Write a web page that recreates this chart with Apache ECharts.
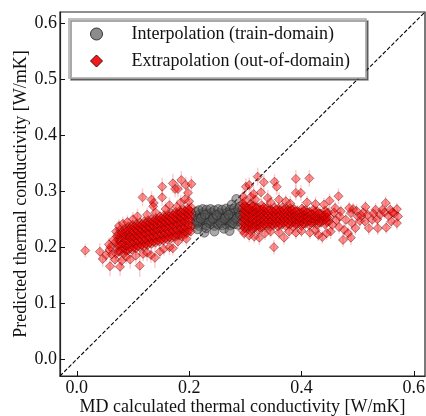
<!DOCTYPE html>
<html><head><meta charset="utf-8">
<script src="https://cdn.jsdelivr.net/npm/echarts@6/dist/echarts.min.js"></script>
<style>html,body{margin:0;padding:0;background:#fff}#c{width:426px;height:416px}</style>
</head><body><div id="c"></div>
<script>
const xTicks = [0, 0.2, 0.4, 0.6];
const yTicks = [0, 0.1, 0.2, 0.3, 0.4, 0.5, 0.6];
const axisMin = -0.03, axisMax = 0.62;
const diagLine = [[-0.03, -0.03], [0.62, 0.62]];
const legendNames = ['Interpolation (train-domain)', 'Extrapolation (out-of-domain)'];

// grey circles [x, y]
const interpPoints = [
[0.211,0.241],[0.212,0.249],[0.210,0.256],[0.212,0.263],
[0.217,0.238],[0.218,0.245],[0.216,0.252],[0.219,0.259],[0.217,0.266],
[0.224,0.240],[0.225,0.248],[0.223,0.255],[0.226,0.262],[0.224,0.268],
[0.231,0.239],[0.232,0.246],[0.230,0.253],[0.233,0.260],[0.231,0.267],
[0.238,0.241],[0.239,0.248],[0.237,0.255],[0.240,0.262],[0.238,0.268],
[0.245,0.238],[0.246,0.245],[0.244,0.252],[0.247,0.259],[0.245,0.266],
[0.252,0.240],[0.253,0.247],[0.251,0.254],[0.254,0.261],[0.252,0.268],
[0.259,0.239],[0.260,0.246],[0.258,0.253],[0.261,0.260],[0.259,0.267],
[0.266,0.241],[0.267,0.248],[0.265,0.255],[0.268,0.262],[0.266,0.269],
[0.273,0.239],[0.274,0.246],[0.272,0.253],[0.275,0.260],[0.273,0.267],
[0.280,0.241],[0.281,0.248],[0.279,0.255],[0.282,0.262],[0.280,0.269],
[0.287,0.240],[0.288,0.247],[0.286,0.254],[0.289,0.261],[0.287,0.268],
[0.214,0.244],[0.221,0.251],[0.228,0.258],[0.235,0.244],[0.242,0.251],[0.249,0.257],
[0.256,0.243],[0.263,0.251],[0.270,0.258],[0.277,0.243],[0.284,0.251],[0.291,0.257],
[0.227,0.226],[0.230,0.234],[0.245,0.228],[0.262,0.233],[0.272,0.229],
[0.284,0.286],[0.276,0.276],[0.215,0.232],[0.290,0.272]
];

// red diamonds [x, y, error]
const extrapPoints = [
// left band
[0.070,0.188,.012],[0.071,0.199,.010],[0.069,0.209,.011],[0.072,0.219,.009],[0.070,0.228,.012],
[0.077,0.192,.015],[0.078,0.203,.010],[0.076,0.212,.012],[0.079,0.222,.010],[0.077,0.231,.011],
[0.084,0.189,.014],[0.085,0.198,.011],[0.083,0.207,.010],[0.086,0.216,.012],[0.084,0.225,.009],[0.085,0.233,.013],
[0.091,0.194,.012],[0.092,0.203,.010],[0.090,0.212,.011],[0.093,0.221,.010],[0.091,0.230,.012],[0.092,0.237,.010],
[0.098,0.196,.013],[0.099,0.205,.011],[0.097,0.214,.010],[0.100,0.223,.012],[0.098,0.232,.010],[0.099,0.240,.011],
[0.105,0.198,.012],[0.106,0.207,.010],[0.104,0.216,.011],[0.107,0.225,.010],[0.105,0.234,.012],[0.106,0.242,.010],
[0.112,0.200,.011],[0.113,0.209,.010],[0.111,0.218,.012],[0.114,0.227,.010],[0.112,0.236,.011],[0.113,0.244,.010],
[0.119,0.201,.012],[0.120,0.211,.010],[0.118,0.220,.011],[0.121,0.229,.010],[0.119,0.238,.012],[0.120,0.246,.010],
[0.126,0.204,.011],[0.127,0.213,.010],[0.125,0.222,.012],[0.128,0.231,.010],[0.126,0.240,.011],[0.127,0.248,.010],
[0.133,0.206,.012],[0.134,0.215,.010],[0.132,0.224,.011],[0.135,0.233,.010],[0.133,0.242,.012],[0.134,0.250,.010],
[0.140,0.208,.011],[0.141,0.217,.010],[0.139,0.227,.012],[0.142,0.236,.010],[0.140,0.245,.011],[0.141,0.252,.010],
[0.147,0.210,.012],[0.148,0.219,.010],[0.146,0.229,.011],[0.149,0.238,.010],[0.147,0.247,.012],[0.148,0.255,.010],
[0.154,0.212,.011],[0.155,0.221,.010],[0.153,0.231,.012],[0.156,0.240,.010],[0.154,0.249,.011],[0.155,0.257,.010],
[0.161,0.214,.012],[0.162,0.223,.010],[0.160,0.233,.011],[0.163,0.242,.010],[0.161,0.251,.012],[0.162,0.259,.010],
[0.168,0.216,.011],[0.169,0.225,.010],[0.167,0.235,.012],[0.170,0.244,.010],[0.168,0.253,.011],[0.169,0.261,.010],
[0.175,0.218,.012],[0.176,0.227,.010],[0.174,0.237,.011],[0.177,0.246,.010],[0.175,0.255,.012],[0.176,0.263,.010],
[0.182,0.221,.011],[0.183,0.230,.010],[0.181,0.240,.012],[0.184,0.249,.010],[0.182,0.258,.011],[0.183,0.265,.010],
[0.189,0.223,.012],[0.190,0.232,.010],[0.188,0.242,.011],[0.191,0.251,.010],[0.189,0.260,.012],[0.190,0.267,.010],
[0.196,0.225,.011],[0.197,0.234,.010],[0.195,0.244,.012],[0.198,0.253,.010],[0.196,0.262,.011],[0.197,0.269,.010],
[0.203,0.228,.012],[0.204,0.237,.010],[0.202,0.247,.011],[0.204,0.256,.010],[0.203,0.264,.012],[0.204,0.271,.010],
// left band, second layer
[0.0735,0.193,.010],[0.0735,0.204,.011],[0.0735,0.214,.010],[0.0735,0.223,.012],
[0.0805,0.197,.011],[0.0805,0.207,.010],[0.0805,0.217,.012],[0.0805,0.226,.010],
[0.0875,0.194,.010],[0.0875,0.203,.011],[0.0875,0.212,.010],[0.0875,0.221,.012],[0.0875,0.229,.010],
[0.0945,0.198,.011],[0.0945,0.208,.010],[0.0945,0.217,.012],[0.0945,0.226,.010],[0.0945,0.233,.011],
[0.1015,0.200,.010],[0.1015,0.210,.011],[0.1015,0.219,.010],[0.1015,0.228,.012],[0.1015,0.236,.010],
[0.1085,0.202,.011],[0.1085,0.212,.010],[0.1085,0.221,.012],[0.1085,0.230,.010],[0.1085,0.238,.011],
[0.1155,0.204,.010],[0.1155,0.214,.011],[0.1155,0.223,.010],[0.1155,0.232,.012],[0.1155,0.240,.010],
[0.1225,0.206,.011],[0.1225,0.215,.010],[0.1225,0.225,.012],[0.1225,0.234,.010],[0.1225,0.242,.011],
[0.1295,0.208,.010],[0.1295,0.218,.011],[0.1295,0.227,.010],[0.1295,0.236,.012],[0.1295,0.244,.010],
[0.1365,0.210,.011],[0.1365,0.220,.010],[0.1365,0.229,.012],[0.1365,0.238,.010],[0.1365,0.246,.011],
[0.1435,0.212,.010],[0.1435,0.222,.011],[0.1435,0.232,.010],[0.1435,0.241,.012],[0.1435,0.248,.010],
[0.1505,0.214,.011],[0.1505,0.224,.010],[0.1505,0.234,.012],[0.1505,0.243,.010],[0.1505,0.251,.011],
[0.1575,0.216,.010],[0.1575,0.226,.011],[0.1575,0.236,.010],[0.1575,0.245,.012],[0.1575,0.253,.010],
[0.1645,0.218,.011],[0.1645,0.228,.010],[0.1645,0.238,.012],[0.1645,0.247,.010],[0.1645,0.255,.011],
[0.1715,0.220,.010],[0.1715,0.230,.011],[0.1715,0.240,.010],[0.1715,0.249,.012],[0.1715,0.257,.010],
[0.1785,0.222,.011],[0.1785,0.232,.010],[0.1785,0.242,.012],[0.1785,0.251,.010],[0.1785,0.259,.011],
[0.1855,0.225,.010],[0.1855,0.235,.011],[0.1855,0.245,.010],[0.1855,0.254,.012],[0.1855,0.262,.010],
[0.1925,0.227,.011],[0.1925,0.237,.010],[0.1925,0.247,.012],[0.1925,0.256,.010],[0.1925,0.264,.011],
[0.1995,0.230,.010],[0.1995,0.240,.011],[0.1995,0.250,.010],[0.1995,0.259,.012],[0.1995,0.267,.010],
// left sparse below
[0.015,0.194,.012],[0.041,0.192,.015],[0.046,0.179,.014],[0.052,0.186,.012],[0.058,0.195,.013],[0.062,0.187,.016],
[0.059,0.166,.018],[0.068,0.178,.015],[0.077,0.165,.016],[0.080,0.176,.014],[0.088,0.183,.013],[0.095,0.178,.016],
[0.112,0.167,.020],[0.105,0.185,.014],[0.118,0.188,.013],[0.125,0.190,.015],[0.132,0.186,.014],[0.139,0.181,.018],
[0.148,0.192,.013],[0.155,0.197,.012],[0.165,0.200,.014],[0.171,0.198,.013],[0.180,0.210,.012],[0.188,0.219,.012],
[0.195,0.215,.013],[0.057,0.205,.012],[0.065,0.213,.013],[0.060,0.200,.012],
// left sparse above
[0.075,0.238,.012],[0.082,0.242,.013],[0.090,0.245,.012],[0.100,0.250,.013],[0.108,0.255,.014],[0.117,0.289,.016],
[0.133,0.285,.015],[0.137,0.279,.014],[0.136,0.273,.013],[0.152,0.308,.016],[0.152,0.289,.015],[0.171,0.314,.017],
[0.175,0.304,.015],[0.180,0.304,.014],[0.186,0.320,.016],[0.194,0.311,.015],[0.204,0.313,.014],[0.198,0.297,.013],
[0.125,0.258,.013],[0.140,0.262,.014],[0.158,0.268,.013],[0.165,0.275,.014],[0.185,0.280,.013],[0.192,0.285,.014],
[0.178,0.272,.012],[0.200,0.282,.013],
// right dense
[0.295,0.230,.011],[0.296,0.238,.010],[0.294,0.246,.012],[0.295,0.254,.010],[0.296,0.262,.011],[0.294,0.270,.012],[0.295,0.278,.013],
[0.302,0.233,.012],[0.303,0.241,.010],[0.301,0.249,.011],[0.302,0.257,.010],[0.303,0.265,.012],[0.301,0.273,.011],
[0.309,0.229,.011],[0.310,0.237,.010],[0.308,0.245,.012],[0.309,0.253,.010],[0.310,0.261,.011],[0.308,0.269,.012],[0.309,0.277,.013],
[0.316,0.234,.012],[0.317,0.242,.010],[0.315,0.250,.011],[0.316,0.258,.010],[0.317,0.266,.012],[0.315,0.274,.011],
[0.323,0.231,.011],[0.324,0.239,.010],[0.322,0.247,.012],[0.323,0.255,.010],[0.324,0.263,.011],[0.322,0.271,.012],
[0.330,0.236,.012],[0.331,0.244,.010],[0.329,0.252,.011],[0.330,0.260,.010],[0.331,0.268,.012],[0.329,0.275,.011],
[0.337,0.238,.011],[0.338,0.246,.010],[0.336,0.254,.012],[0.337,0.262,.010],[0.338,0.270,.011],
[0.344,0.236,.012],[0.345,0.244,.010],[0.343,0.252,.011],[0.344,0.260,.010],[0.345,0.268,.012],
[0.351,0.239,.011],[0.352,0.247,.010],[0.350,0.255,.012],[0.351,0.263,.010],[0.352,0.271,.011],
[0.358,0.237,.012],[0.359,0.245,.010],[0.357,0.253,.011],[0.358,0.261,.010],[0.359,0.269,.012],
[0.365,0.240,.011],[0.366,0.248,.010],[0.364,0.256,.012],[0.365,0.264,.010],[0.366,0.271,.011],
[0.372,0.238,.012],[0.373,0.246,.010],[0.371,0.254,.011],[0.372,0.262,.010],[0.373,0.269,.012],
[0.379,0.240,.011],[0.380,0.248,.010],[0.378,0.256,.012],[0.379,0.264,.010],[0.380,0.270,.011],
[0.386,0.237,.012],[0.387,0.245,.010],[0.385,0.253,.011],[0.386,0.261,.010],[0.387,0.268,.012],
[0.393,0.241,.011],[0.394,0.249,.010],[0.392,0.257,.012],[0.393,0.265,.010],
[0.400,0.238,.012],[0.401,0.246,.010],[0.399,0.254,.011],[0.400,0.262,.010],[0.401,0.269,.012],
[0.407,0.242,.011],[0.408,0.250,.010],[0.406,0.258,.012],[0.407,0.266,.010],
[0.414,0.239,.012],[0.415,0.247,.010],[0.413,0.255,.011],[0.414,0.263,.010],
[0.421,0.243,.011],[0.422,0.251,.010],[0.420,0.259,.012],[0.421,0.267,.010],
[0.428,0.240,.012],[0.429,0.248,.010],[0.427,0.256,.011],[0.428,0.264,.010],
[0.435,0.244,.011],[0.436,0.252,.010],[0.434,0.260,.012],
[0.442,0.241,.012],[0.443,0.249,.010],[0.441,0.257,.011],[0.442,0.265,.010],
[0.449,0.246,.011],[0.450,0.254,.010],[0.448,0.262,.012],
// right dense, second layer
[0.2985,0.234,.010],[0.2985,0.242,.011],[0.2985,0.250,.010],[0.2985,0.258,.012],[0.2985,0.266,.010],[0.2985,0.274,.011],
[0.3055,0.237,.011],[0.3055,0.245,.010],[0.3055,0.253,.012],[0.3055,0.261,.010],[0.3055,0.269,.011],
[0.3125,0.233,.010],[0.3125,0.241,.011],[0.3125,0.249,.010],[0.3125,0.257,.012],[0.3125,0.265,.010],[0.3125,0.273,.011],
[0.3195,0.238,.011],[0.3195,0.246,.010],[0.3195,0.254,.012],[0.3195,0.262,.010],[0.3195,0.270,.011],
[0.3265,0.235,.010],[0.3265,0.243,.011],[0.3265,0.251,.010],[0.3265,0.259,.012],[0.3265,0.267,.010],
[0.3335,0.240,.011],[0.3335,0.248,.010],[0.3335,0.256,.012],[0.3335,0.264,.010],[0.3335,0.271,.011],
[0.3405,0.242,.010],[0.3405,0.250,.011],[0.3405,0.258,.010],[0.3405,0.266,.012],
[0.3475,0.240,.011],[0.3475,0.248,.010],[0.3475,0.256,.012],[0.3475,0.264,.010],
[0.3545,0.243,.010],[0.3545,0.251,.011],[0.3545,0.259,.010],[0.3545,0.267,.012],
[0.3615,0.241,.011],[0.3615,0.249,.010],[0.3615,0.257,.012],[0.3615,0.265,.010],
[0.3685,0.244,.010],[0.3685,0.252,.011],[0.3685,0.260,.010],[0.3685,0.267,.012],
[0.3755,0.242,.011],[0.3755,0.250,.010],[0.3755,0.258,.012],[0.3755,0.265,.010],
[0.3825,0.244,.010],[0.3825,0.252,.011],[0.3825,0.260,.010],[0.3825,0.267,.012],
[0.3895,0.241,.011],[0.3895,0.249,.010],[0.3895,0.257,.012],[0.3895,0.264,.010],
[0.3965,0.245,.010],[0.3965,0.253,.011],[0.3965,0.261,.010],
[0.4035,0.242,.011],[0.4035,0.250,.010],[0.4035,0.258,.012],[0.4035,0.265,.010],
[0.4105,0.246,.010],[0.4105,0.254,.011],[0.4105,0.262,.010],
[0.4175,0.243,.011],[0.4175,0.251,.010],[0.4175,0.259,.012],
[0.4245,0.247,.010],[0.4245,0.255,.011],[0.4245,0.263,.010],
[0.4315,0.244,.011],[0.4315,0.252,.010],[0.4315,0.260,.012],
[0.4385,0.248,.010],[0.4385,0.256,.011],
[0.4455,0.245,.011],[0.4455,0.253,.010],[0.4455,0.261,.012],
// right sparse far
[0.458,0.262,.011],[0.462,0.248,.012],[0.466,0.291,.014],[0.470,0.264,.011],[0.474,0.213,.013],[0.476,0.231,.012],
[0.479,0.249,.011],[0.483,0.225,.012],[0.488,0.261,.011],[0.488,0.217,.013],[0.490,0.243,.012],[0.492,0.268,.011],
[0.496,0.234,.012],[0.500,0.255,.011],[0.504,0.247,.012],[0.507,0.256,.011],[0.513,0.246,.012],[0.514,0.272,.011],
[0.520,0.234,.012],[0.526,0.249,.011],[0.532,0.267,.012],[0.535,0.250,.011],[0.536,0.234,.012],[0.544,0.267,.011],
[0.550,0.279,.012],[0.551,0.235,.011],[0.558,0.267,.012],[0.560,0.246,.011],[0.565,0.260,.012],[0.570,0.268,.011],
[0.570,0.243,.012],[0.572,0.255,.011],[0.455,0.240,.012],[0.460,0.270,.011],[0.468,0.255,.012],[0.485,0.270,.011],
[0.498,0.265,.012],[0.510,0.262,.011],[0.518,0.258,.012],[0.528,0.260,.011],[0.540,0.258,.012],[0.548,0.262,.011],
[0.555,0.256,.012],[0.562,0.262,.011],[0.467,0.236,.012],[0.452,0.228,.013],
// right sparse above
[0.301,0.308,.015],[0.307,0.311,.014],[0.322,0.326,.016],[0.333,0.316,.015],[0.352,0.317,.014],[0.356,0.308,.015],
[0.390,0.322,.016],[0.414,0.323,.015],[0.328,0.298,.014],[0.390,0.297,.013],[0.399,0.297,.014],[0.296,0.290,.013],
[0.310,0.290,.014],[0.318,0.285,.013],[0.340,0.288,.014],[0.345,0.280,.012],[0.360,0.285,.013],[0.372,0.282,.012],
[0.380,0.278,.013],[0.410,0.280,.012],[0.425,0.277,.013],[0.440,0.276,.012],[0.450,0.283,.013],[0.300,0.282,.012],
[0.315,0.295,.013],
// right sparse below
[0.351,0.200,.013],[0.369,0.217,.012],[0.437,0.218,.012],[0.325,0.217,.013],[0.316,0.219,.012],[0.307,0.221,.012],
[0.298,0.225,.011],[0.335,0.225,.012],[0.345,0.228,.011],[0.360,0.226,.012],[0.378,0.228,.011],[0.390,0.226,.012],
[0.400,0.229,.011],[0.415,0.226,.012],[0.425,0.230,.011],[0.445,0.225,.012],[0.430,0.222,.011]
];

const FONT = "'Liberation Serif', 'Times New Roman', serif";
const chart = echarts.init(document.getElementById('c'), null, {renderer: 'canvas'});
chart.setOption({
  animation: false,
  backgroundColor: '#fff',
  grid: {left: 60, right: 1, top: 12, bottom: 40, show: true, borderColor: '#222', borderWidth: 1.2,
    backgroundColor: 'transparent', containLabel: false, outerBoundsMode: 'none'},
  legend: {
    orient: 'vertical', left: 69, top: 19,
    padding: [6, 16, 8, 21],
    itemWidth: 12, itemHeight: 12, itemGap: 9,
    backgroundColor: '#fff', borderColor: '#aaa', borderWidth: 1.5,
    shadowColor: 'rgba(0,0,0,0.45)', shadowOffsetX: 2, shadowOffsetY: 2, shadowBlur: 0,
    textStyle: {fontFamily: FONT, fontSize: 18, color: '#111', lineHeight: 18, padding: [0, 0, 0, 24]},
    data: [
      {name: legendNames[0], icon: 'circle', itemStyle: {color: '#8c8c8c', borderColor: '#333', borderWidth: 1, opacity: 1}},
      {name: legendNames[1], icon: 'diamond', itemStyle: {color: '#ee1c1c', borderColor: '#550000', borderWidth: 1, opacity: 1}}
    ]
  },
  xAxis: {
    type: 'value', min: axisMin, max: axisMax,
    name: 'MD calculated thermal conductivity [W/mK]', nameLocation: 'middle', nameGap: 22,
    nameMoveOverlap: false,
    nameTextStyle: {fontFamily: FONT, fontSize: 18, color: '#111'},
    axisLine: {show: true, onZero: false, lineStyle: {color: '#222', width: 1.2}},
    axisTick: {show: true, inside: true, length: 5, customValues: xTicks, lineStyle: {color: '#111'}},
    axisLabel: {customValues: xTicks, margin: 3, fontFamily: FONT, fontSize: 18, color: '#111', formatter: v => v.toFixed(1)},
    splitLine: {show: false}
  },
  yAxis: {
    type: 'value', min: axisMin, max: axisMax,
    name: 'Predicted thermal conductivity [W/mK]', nameLocation: 'middle', nameGap: 30,
    nameMoveOverlap: false,
    nameTextStyle: {fontFamily: FONT, fontSize: 18, color: '#111'},
    axisLine: {show: true, onZero: false, lineStyle: {color: '#222', width: 1.2}},
    axisTick: {show: true, inside: true, length: 5, customValues: yTicks, lineStyle: {color: '#111'}},
    axisLabel: {customValues: yTicks, margin: 3, fontFamily: FONT, fontSize: 18, color: '#111', formatter: v => v.toFixed(1)},
    splitLine: {show: false}
  },
  series: [
    {
      type: 'line', name: 'diag', data: diagLine, symbol: 'none', z: 1,
      lineStyle: {color: '#000', width: 1.1, type: [4, 2]}, silent: true
    },
    {
      type: 'custom', name: 'errbars', z: 2, data: extrapPoints,
      encode: {x: 0, y: 1},
      renderItem: function (params, api) {
        const x = api.value(0), y = api.value(1), e = api.value(2);
        const p1 = api.coord([x, y - e]), p2 = api.coord([x, y + e]);
        return {type: 'line', shape: {x1: p1[0], y1: p1[1], x2: p2[0], y2: p2[1]},
          style: {stroke: 'rgba(255,110,110,0.35)', lineWidth: 1.5}};
      }
    },
    {
      type: 'scatter', name: legendNames[0], data: interpPoints, z: 3,
      symbol: 'circle', symbolSize: 9,
      itemStyle: {color: 'rgba(90,90,90,0.65)', borderColor: 'rgba(30,30,30,0.8)', borderWidth: 0.8}
    },
    {
      type: 'scatter', name: legendNames[1], data: extrapPoints, z: 4,
      symbol: 'diamond', symbolSize: 9,
      encode: {x: 0, y: 1},
      itemStyle: {color: 'rgba(255,0,0,0.55)', borderColor: 'rgba(80,0,0,0.7)', borderWidth: 0.8}
    }
  ]
});
</script>
</body></html>
